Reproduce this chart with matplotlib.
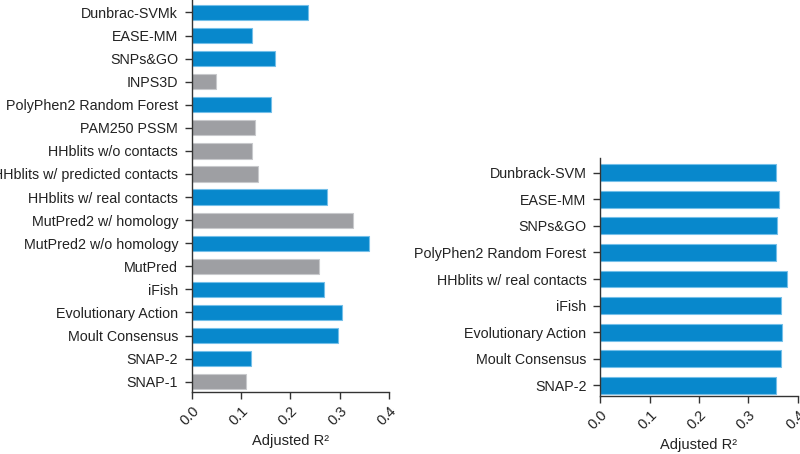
import matplotlib
matplotlib.use("Agg")
import matplotlib.pyplot as plt

plt.rcParams['font.family'] = ['Liberation Sans', 'DejaVu Sans']

left_labels = ["Dunbrac-SVMk", "EASE-MM", "SNPs&GO", "INPS3D", "PolyPhen2 Random Forest",
               "PAM250 PSSM", "HHblits w/o contacts", "HHblits w/ predicted contacts",
               "HHblits w/ real contacts", "MutPred2 w/ homology", "MutPred2 w/o homology",
               "MutPred", "iFish", "Evolutionary Action", "Moult Consensus", "SNAP-2", "SNAP-1"]
left_values = [0.235, 0.123, 0.168, 0.048, 0.160, 0.129, 0.123, 0.135, 0.275, 0.328,
               0.359, 0.259, 0.268, 0.306, 0.296, 0.119, 0.110]
left_group = ["b", "b", "b", "g", "b", "g", "g", "g", "b", "g", "b", "g", "b", "b", "b", "b", "g"]

right_labels = ["Dunbrack-SVM", "EASE-MM", "SNPs&GO", "PolyPhen2 Random Forest",
                "HHblits w/ real contacts", "iFish", "Evolutionary Action", "Moult Consensus", "SNAP-2"]
right_values = [0.357, 0.363, 0.359, 0.357, 0.378, 0.366, 0.368, 0.366, 0.357]

x_ticks = [0.0, 0.1, 0.2, 0.3, 0.4]

BLUE = "#0888cc"
BLUE_EDGE = "#74bfe9"
GRAY = "#9e9fa3"
GRAY_EDGE = "#c8c9cc"
SPINE = "#333333"
TXT = "#222222"

W, H = 800, 454
fig = plt.figure(figsize=(W / 100, H / 100), dpi=100)

def px_axes(x0, x1, y0, y1):
    return fig.add_axes([x0 / W, 1 - y1 / H, (x1 - x0) / W, (y1 - y0) / H])

def style(ax, n, top_pad, bot_pad):
    ax.set_xlim(0, 0.4)
    ax.set_ylim(n - 1 + bot_pad, -top_pad)
    for s in ["top", "right"]:
        ax.spines[s].set_visible(False)
    for s in ["left", "bottom"]:
        ax.spines[s].set_color(SPINE)
        ax.spines[s].set_linewidth(1.0)
    ax.set_xticks(x_ticks)
    ax.set_xticklabels([f"{t:.1f}" for t in x_ticks], rotation=45, ha="right",
                       rotation_mode="anchor", fontsize=10.5, color=TXT)
    ax.tick_params(axis="both", direction="out", length=5, width=1, color=SPINE)
    ax.tick_params(axis="x", pad=3)
    ax.tick_params(axis="y", labelsize=10.3, labelcolor=TXT, pad=5)
    ax.set_xlabel("Adjusted R²", fontsize=10.5, color=TXT, labelpad=4.5)

# Left panel
axL = px_axes(192, 388.7, -0.5, 392.3)
yL = list(range(len(left_labels)))
colorsL = [BLUE if g == "b" else GRAY for g in left_group]
edgesL = [BLUE_EDGE if g == "b" else GRAY_EDGE for g in left_group]
axL.barh(yL, left_values, height=0.66, color=colorsL, edgecolor=edgesL, linewidth=0.8)
axL.set_yticks(yL)
axL.set_yticklabels(left_labels)
style(axL, len(left_labels), 0.56, 0.46)

# Right panel
axR = px_axes(600.3, 797.7, 158.3, 396.3)
yR = list(range(len(right_labels)))
axR.barh(yR, right_values, height=0.63, color=BLUE, edgecolor=BLUE_EDGE, linewidth=0.8)
axR.set_yticks(yR)
axR.set_yticklabels(right_labels)
style(axR, len(right_labels), 0.54, 0.41)

fig.savefig("out.png", dpi=100, facecolor="white")
